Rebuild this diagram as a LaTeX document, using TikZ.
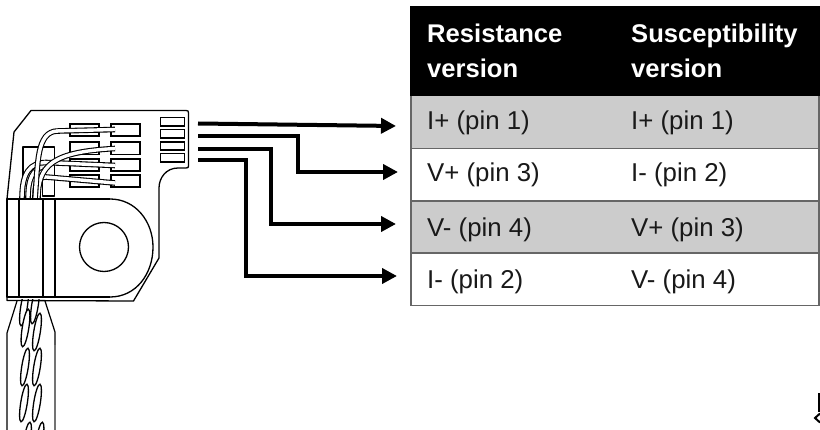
\documentclass[tikz,border=0pt]{standalone}
\usepackage{fontspec}
\setmainfont{Liberation Sans}
\usetikzlibrary{arrows.meta}
\definecolor{rowgray}{HTML}{CCCCCC}
\definecolor{rulegray}{HTML}{666666}
\tikzset{
  outline/.style={draw=black,line width=1.2pt,line join=round},
  padbox/.style={draw=black,line width=1.2pt,fill=white},
  smallpad/.style={draw=black,line width=1.6pt,fill=white},
  wireb/.style={draw=black,line width=5.6pt,line cap=butt},
  wirew/.style={draw=white,line width=3.4pt,line cap=butt},
  strand/.style={draw=black,line width=1.3pt,fill=white},
  lead/.style={draw=black,line width=4pt,line join=miter,-{Triangle[length=15pt,width=15pt]}},
  cell/.style={anchor=base west,inner sep=0pt,font=\fontsize{25.8}{30}\selectfont,text=black!90},
  headcell/.style={anchor=north west,inner sep=0pt,align=left,text=white,font=\fontsize{25.6}{35}\selectfont\bfseries},
}
\newcommand{\wirepath}[4]{%
  \draw[wireb] #1 .. controls #2 and #3 .. #4;
  \draw[wirew] #1 .. controls #2 and #3 .. #4;}
\begin{document}
\begin{tikzpicture}[x=1pt,y=-1pt]
\useasboundingbox (0,0) rectangle (820,430);
\fill[white] (0,0) rectangle (820,430);
% cable
\begin{scope}
\clip (0,300) rectangle (820,430);
\foreach \cx/\cy in {24/307,35/305,25.5/328,37/332,25/367,37/367,24/403,37/403,27/441,39.5/441}
  \draw[strand] (\cx,\cy) ellipse[x radius=3.3,y radius=19,rotate=-9];
\end{scope}
\draw[outline] (17,301) -- (7,333) -- (7,430);
\draw[outline] (45,301) -- (55,332) -- (55,345);
\draw[draw=black!55,line width=1.2pt] (55,345) -- (55,430);
% board outline
\draw[outline,line width=1.3pt] (7,199) -- (14,132) -- (31,110.5) -- (186,110.5)
  .. controls (188,110.5) and (188.5,111) .. (188.5,113) -- (188.5,166) .. controls (188.5,167.5) and (188,168) .. (186,168)
  -- (178,168) .. controls (166,168) and (159,178) .. (159,188) -- (159,258) -- (133.5,301) -- (7,300.5) -- cycle;
% inner rectangle
\draw[outline] (23,199) -- (23,147) -- (54.5,147) -- (54.5,196) -- (42.5,196) -- (42.5,172);
% pads
\foreach \py/\ph in {124/136,142/154.5,159/171,175/187}{
  \draw[padbox] (70,\py) rectangle (99,\ph);
  \draw[padbox] (111,\py) rectangle (140,\ph);
}
% wires
\wirepath{(22,199)}{(22,172)}{(30,163)}{(46,162.5)}
\draw[wireb] (46,162.5) -- (115,165.5); \draw[wirew] (44,162.4) -- (115,165.5);
\wirepath{(28,199)}{(28,178)}{(33,170)}{(42,167)}
\wirepath{(35,199)}{(35,185)}{(36,177)}{(46,177)}
\draw[wireb] (46,177) -- (115,183); \draw[wirew] (44,176.8) -- (115,183);
\wirepath{(38,199)}{(38,165)}{(52,152)}{(115,148.5)}
\wirepath{(35,199)}{(38,165)}{(36,131)}{(58,131)}
\draw[wireb] (58,131) -- (115,129.5); \draw[wirew] (56,131) -- (115,129.5);
% small pads
\foreach \py/\ph in {117.5/126,129.5/138,142/150,153.5/162}
  \draw[smallpad] (160.5,\py) rectangle (184.5,\ph);
% clamp
\fill[white] (7,199) -- (110,199) .. controls (136,199) and (153,222) .. (153,247) .. controls (153,274) and (136,297) .. (110,297) -- (7,297) -- cycle;
\draw[outline,line width=1.3pt] (110,199) -- (7,199) -- (7,297) -- (110,297);
\draw[outline,line width=1.3pt] (110,199) .. controls (136,199) and (153,222) .. (153,247) .. controls (153,274) and (136,297) .. (110,297);
\foreach \vx in {19,43,55}
  \draw[outline,line width=1.3pt] (\vx,199) -- (\vx,297);
\node[circle,draw=black,line width=1.3pt,minimum size=49pt,inner sep=0pt] (hole) at (104,247) {};
% table
\fill[black] (410,6) rectangle (820,96);
\fill[rowgray] (411,96) rectangle (819,148.5);
\fill[rowgray] (411,201) rectangle (819,253);
\draw[rulegray,line width=1.6pt] (411,96) -- (411,305.5) -- (819,305.5) -- (819,96);
\draw[rulegray,line width=1.6pt] (411,148.5) -- (819,148.5);
\draw[rulegray,line width=1.6pt] (411,201) -- (819,201);
\draw[rulegray,line width=1.6pt] (411,253) -- (819,253);
\node[headcell] (h1) at (427,24) {Resistance\\version};
\node[headcell] (h2) at (631,24) {Susceptibility\\version};
\node[cell] (a1) at (427,129.5) {I+ (pin 1)};
\node[cell] (b1) at (631,129.5) {I+ (pin 1)};
\node[cell] (a2) at (427,182) {V+ (pin 3)};
\node[cell] (b2) at (631,182) {I- (pin 2)};
\node[cell] (a3) at (427,236.5) {V- (pin 4)};
\node[cell] (b3) at (631,236.5) {V+ (pin 3)};
\node[cell] (a4) at (427,288.5) {I- (pin 2)};
\node[cell] (b4) at (631,288.5) {V- (pin 4)};
% connectors
\coordinate (s1) at (198,123.5);
\coordinate (s2) at (198,136);
\coordinate (s3) at (198,149.5);
\coordinate (s4) at (198,160.5);
\coordinate (t1) at (396,126);
\coordinate (t2) at (398,172);
\coordinate (t3) at (396,224);
\coordinate (t4) at (397,276);
\draw[lead] (s1) -- (t1);
\draw[lead] (s2) -- (298,136) -- (298,172) -- (t2);
\draw[lead] (s3) -- (271,149.5) -- (271,224) -- (t3);
\draw[lead] (s4) -- (246,160.5) -- (246,276) -- (t4);
% page-edge fragments
\draw[black,line width=3pt] (819.5,393) -- (819.5,412);
\draw[black,line width=2pt] (820,413.5) -- (815,418) -- (820,422.5);
\end{tikzpicture}
\end{document}
